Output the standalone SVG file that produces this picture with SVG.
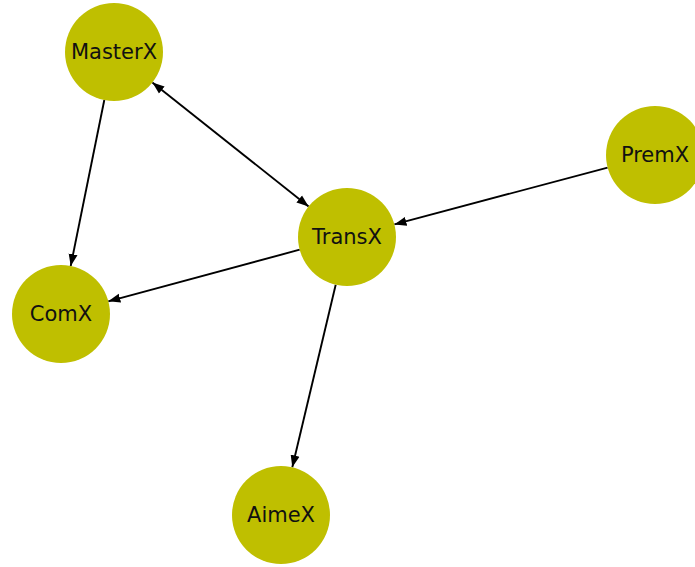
<svg xmlns="http://www.w3.org/2000/svg" width="695" height="567" viewBox="0 0 695 567">
<style>
.node circle{fill:#bfbf00;}
.node text{font-family:"DejaVu Sans",sans-serif;font-size:21px;fill:#111;text-anchor:middle;dominant-baseline:central;}
.edge{stroke:#000;stroke-width:1.9;fill:none;}
</style>
<defs>
<marker id="arr" markerUnits="userSpaceOnUse" markerWidth="14" markerHeight="12" refX="12" refY="5" orient="auto-start-reverse">
<path d="M0,0.5 L12,5 L0,9.5 z" fill="#000"/>
</marker>
</defs>
<rect width="695" height="567" fill="#fff"/>
<g id="connectors">
<line class="edge" x1="152.4" y1="82.5" x2="308.6" y2="206.5" marker-start="url(#arr)" marker-end="url(#arr)"/>
<line class="edge" x1="104.3" y1="100" x2="70.7" y2="266" marker-end="url(#arr)"/>
<line class="edge" x1="299.7" y1="249.7" x2="108.3" y2="301.3" marker-end="url(#arr)"/>
<line class="edge" x1="607.6" y1="167.6" x2="394.4" y2="224.4" marker-end="url(#arr)"/>
<line class="edge" x1="335.7" y1="284.7" x2="292.3" y2="467.3" marker-end="url(#arr)"/>
</g>
<g id="MasterX" class="node"><circle cx="114" cy="52" r="49"/><text x="114" y="52">MasterX</text></g>
<g id="TransX" class="node"><circle cx="347" cy="237" r="49"/><text x="347" y="237">TransX</text></g>
<g id="PremX" class="node"><circle cx="655" cy="155" r="49"/><text x="655" y="155">PremX</text></g>
<g id="ComX" class="node"><circle cx="61" cy="314" r="49"/><text x="61" y="314">ComX</text></g>
<g id="AimeX" class="node"><circle cx="281" cy="515" r="49"/><text x="281" y="515">AimeX</text></g>
</svg>
